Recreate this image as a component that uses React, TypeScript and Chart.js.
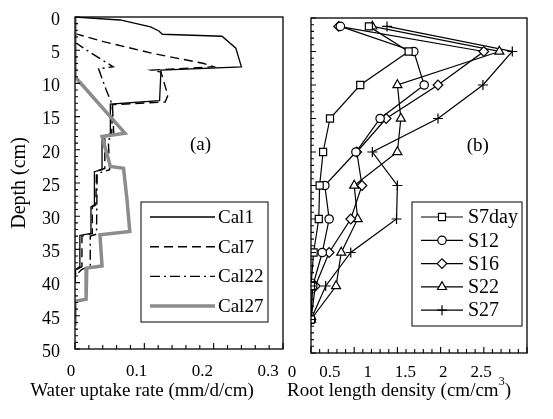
import React, { useEffect, useRef } from 'react';
import { Chart, registerables } from 'chart.js';
import { drawPoint } from 'chart.js/helpers';

Chart.register(...registerables);

const FONT = '"Liberation Serif", "Times New Roman", serif';

// ---------- Panel (a): water uptake rate profiles ----------
const cal1Rate = [0, 0.065, 0.109, 0.121, 0.126, 0.212, 0.232, 0.24, 0.124, 0.122, 0.051, 0.051, 0.039, 0.039, 0.028, 0.028, 0.023, 0.023, 0.007, 0.007, 0.001, 0];
const cal1Depth = [0, 0.45, 1.5, 2.1, 2.6, 2.9, 4.7, 7.5, 8.0, 12.6, 13.1, 17.6, 18.0, 23.0, 23.3, 28.3, 28.6, 32.6, 32.9, 37.6, 38.0, 40];
const cal7Rate = [0, 0.041, 0.113, 0.186, 0.2, 0.111, 0.124, 0.134, 0.13, 0.054, 0.053, 0.043, 0.043, 0.031, 0.03, 0.025, 0.025, 0.01, 0.01, 0.003, 0];
const cal7Depth = [2.5, 3.7, 5.5, 7.0, 7.5, 8.0, 8.3, 11.8, 12.8, 13.2, 17.6, 18.1, 22.8, 23.2, 28.3, 28.6, 32.6, 33.0, 37.6, 38.0, 39];
const cal22Rate = [0, 0.02, 0.055, 0.034, 0.045, 0.051, 0.054, 0.056, 0.048, 0.05, 0.032, 0.031, 0.022, 0.022, 0.01, 0];
const cal22Depth = [3.8, 5.2, 7.5, 7.8, 11.0, 12.5, 13.3, 17.8, 18.5, 23.0, 23.6, 32.7, 33.0, 37.5, 38.0, 39];
const cal27Rate = [0, 0, 0.072, 0.039, 0.051, 0.07, 0.075, 0.079, 0.036, 0.039, 0.017, 0.016, 0, 0];
const cal27Depth = [0, 9.0, 17.5, 18.0, 22.5, 22.8, 27.5, 32.3, 32.8, 37.5, 37.8, 42.5, 42.8, 46.5];
const uptakeTicks = [0, 0.1, 0.2, 0.3];

// ---------- Panel (b): root length density ----------
const rootDepths = [1.25, 5, 10, 15, 20, 25, 30, 35, 40, 45];
const s7day = [0.67, 1.13, 0.57, 0.22, 0.14, 0.1, 0.09, 0.03, 0.0, 0.0];
const s12 = [0.34, 1.19, 1.31, 0.8, 0.52, 0.16, 0.21, 0.13, 0.02, 0.0];
const s16 = [0.32, 2.0, 1.47, 0.87, 0.53, 0.59, 0.46, 0.21, 0.05, 0.0];
const s22 = [0.71, 2.18, 1.0, 1.04, 1.0, 0.5, 0.54, 0.35, 0.29, 0.0];
const s27 = [0.88, 2.33, 1.99, 1.47, 0.71, 1.0, 0.99, 0.46, 0.17, 0.0];
const rootTicks = [0, 0.5, 1, 1.5, 2, 2.5];
const depthTicksStep = 5;

const zip = (xs: number[], ys: number[]) => xs.map((x, i) => ({ x, y: ys[i] }));

const framePlugin = {
  id: 'frame',
  afterDatasetsDraw(chart: any, _a: any, o: any) {
    const { ctx, chartArea } = chart;
    const { left, top, right, bottom } = chartArea;
    const xs = chart.scales.x;
    const ys = chart.scales.y;
    ctx.save();
    ctx.strokeStyle = '#000';
    ctx.lineWidth = 1.1;
    ctx.setLineDash([]);
    ctx.beginPath();
    const nx = Math.round((xs.max - xs.min) / o.xMinor);
    for (let i = 0; i <= nx; i++) {
      const p = xs.getPixelForValue(xs.min + i * o.xMinor);
      const major = i % o.every === 0;
      ctx.moveTo(p, bottom);
      ctx.lineTo(p, bottom - (major ? 6 : 4));
    }
    const ny = Math.round((ys.max - ys.min) / o.yMinor);
    for (let i = 0; i <= ny; i++) {
      const p = ys.getPixelForValue(ys.min + i * o.yMinor);
      const major = i % o.every === 0;
      ctx.moveTo(left, p);
      ctx.lineTo(left + (major ? 5 : 3), p);
    }
    ctx.stroke();
    ctx.lineWidth = 1.3;
    ctx.strokeRect(left, top, right - left, bottom - top);
    ctx.restore();
  },
};

const boxLegend = {
  id: 'boxLegend',
  afterDraw(chart: any, _a: any, o: any) {
    const { ctx, chartArea } = chart;
    const bx = chartArea.left + o.left;
    const by = chartArea.top + o.top;
    ctx.save();
    ctx.fillStyle = '#fff';
    ctx.fillRect(bx, by, o.width, o.height);
    ctx.strokeStyle = '#000';
    ctx.lineWidth = 1;
    ctx.setLineDash([]);
    ctx.strokeRect(bx, by, o.width, o.height);
    chart.data.datasets.forEach((ds: any, i: number) => {
      const y = by + o.rowTop + i * o.rowGap;
      ctx.save();
      ctx.strokeStyle = ds.borderColor;
      ctx.lineWidth = ds.borderWidth;
      ctx.setLineDash(ds.borderDash || []);
      ctx.beginPath();
      ctx.moveTo(bx + o.lineX0, y);
      ctx.lineTo(bx + o.lineX1, y);
      ctx.stroke();
      ctx.restore();
      if (ds.pointStyle && ds.pointRadius > 0) {
        ctx.save();
        ctx.fillStyle = '#fff';
        ctx.strokeStyle = '#000';
        ctx.lineWidth = ds.pointBorderWidth;
        ctx.setLineDash([]);
        drawPoint(ctx, { pointStyle: ds.pointStyle, radius: ds.pointRadius, rotation: 0, borderWidth: ds.pointBorderWidth } as any, bx + (o.lineX0 + o.lineX1) / 2, y);
        ctx.restore();
      }
      ctx.fillStyle = '#000';
      ctx.font = `${o.fontSize}px ${FONT}`;
      ctx.textAlign = 'left';
      ctx.textBaseline = 'middle';
      ctx.fillText(ds.label, bx + o.textX, y + 1);
    });
    ctx.restore();
  },
};

const panelTag = {
  id: 'panelTag',
  afterDraw(chart: any, _a: any, o: any) {
    const { ctx } = chart;
    ctx.save();
    ctx.fillStyle = '#000';
    ctx.font = `${o.fontSize}px ${FONT}`;
    ctx.textAlign = 'center';
    ctx.textBaseline = 'middle';
    ctx.fillText(o.text, chart.scales.x.getPixelForValue(o.x), chart.scales.y.getPixelForValue(o.y));
    ctx.restore();
  },
};

function labelAxis(min: number, max: number, ticks: number[], height: number, pad: number) {
  return {
    type: 'linear',
    axis: 'x',
    position: 'bottom',
    min,
    max,
    afterBuildTicks: (s: any) => {
      s.ticks = ticks.map((v) => ({ value: v }));
    },
    afterFit: (s: any) => {
      s.height = height;
      s.paddingLeft = 0;
      s.paddingRight = 0;
    },
    ticks: {
      autoSkip: false,
      maxRotation: 0,
      minRotation: 0,
      padding: pad,
      color: '#000',
      font: { family: FONT, size: 17 },
      callback: (v: any) => String(v),
    },
    grid: { display: false, drawTicks: false },
    border: { display: false },
  };
}

function buildA(): any {
  const line = { showLine: true, pointRadius: 0, tension: 0, fill: false, xAxisID: 'x', yAxisID: 'y' };
  return {
    type: 'scatter',
    data: {
      datasets: [
        { ...line, label: 'Cal1', data: zip(cal1Rate, cal1Depth), borderColor: '#000', borderWidth: 1.3, borderDash: [] },
        { ...line, label: 'Cal7', data: zip(cal7Rate, cal7Depth), borderColor: '#000', borderWidth: 1.4, borderDash: [9, 5] },
        { ...line, label: 'Cal22', data: zip(cal22Rate, cal22Depth), borderColor: '#000', borderWidth: 1.4, borderDash: [10, 4, 2, 4] },
        { ...line, label: 'Cal27', data: zip(cal27Rate, cal27Depth), borderColor: '#8c8c8c', borderWidth: 3.5, borderDash: [], order: -1 },
      ],
    },
    options: {
      responsive: false,
      animation: false,
      devicePixelRatio: 1,
      events: [],
      layout: { padding: { left: 0, right: 7, top: 17, bottom: 0 } },
      scales: {
        x: { type: 'linear', min: 0, max: 0.3, display: false },
        xl: labelAxis(0.0061, 0.3228, uptakeTicks, 70, 12),
        y: {
          type: 'linear',
          min: 0,
          max: 50,
          reverse: true,
          position: 'left',
          afterFit: (s: any) => {
            s.width = 75;
            s.paddingTop = 0;
            s.paddingBottom = 0;
          },
          ticks: { stepSize: depthTicksStep, color: '#000', font: { family: FONT, size: 18 }, padding: 15, labelOffset: 3 },
          grid: { display: false, drawTicks: false },
          border: { display: false },
          title: { display: true, text: 'Depth (cm)', color: '#000', font: { family: FONT, size: 20 }, padding: { top: 8, bottom: 0 } },
        },
      },
      plugins: {
        legend: { display: false },
        tooltip: { enabled: false },
        frame: { xMinor: 0.02, yMinor: 1, every: 5 },
        boxLegend: { left: 66, top: 185, width: 127, height: 120, rowTop: 15, rowGap: 29.7, lineX0: 9, lineX1: 74, textX: 77, fontSize: 19 },
        panelTag: { text: '(a)', x: 0.181, y: 19.3, fontSize: 19 },
      },
    },
    plugins: [framePlugin, boxLegend, panelTag],
  };
}

function buildB(): any {
  const base = {
    showLine: true,
    tension: 0,
    fill: false,
    borderColor: '#000',
    borderWidth: 1.2,
    pointBorderColor: '#000',
    pointBackgroundColor: '#fff',
    pointBorderWidth: 1.2,
    xAxisID: 'x',
    yAxisID: 'y',
  };
  return {
    type: 'scatter',
    data: {
      datasets: [
        { ...base, label: 'S7day', data: zip(s7day, rootDepths), pointStyle: 'rect', pointRadius: 5 },
        { ...base, label: 'S12', data: zip(s12, rootDepths), pointStyle: 'circle', pointRadius: 4.2 },
        { ...base, label: 'S16', data: zip(s16, rootDepths), pointStyle: 'rectRot', pointRadius: 4.8 },
        { ...base, label: 'S22', data: zip(s22, rootDepths), pointStyle: 'triangle', pointRadius: 5.2 },
        { ...base, label: 'S27', data: zip(s27, rootDepths), pointStyle: 'cross', pointRadius: 5 },
      ],
    },
    options: {
      responsive: false,
      animation: false,
      devicePixelRatio: 1,
      events: [],
      layout: { padding: { left: 31, right: 26, top: 18, bottom: 0 } },
      scales: {
        x: { type: 'linear', min: 0, max: 2.5, display: false },
        xl: labelAxis(0.251, 3.108, rootTicks, 66, 9),
        y: { type: 'linear', min: 0, max: 50, reverse: true, display: false },
      },
      plugins: {
        legend: { display: false },
        tooltip: { enabled: false },
        frame: { xMinor: 0.1, yMinor: 1, every: 5 },
        boxLegend: { left: 101, top: 184, width: 110, height: 124, rowTop: 15, rowGap: 23.3, lineX0: 9, lineX1: 51, textX: 56, fontSize: 20 },
        panelTag: { text: '(b)', x: 1.93, y: 19.1, fontSize: 19 },
      },
    },
    plugins: [framePlugin, boxLegend, panelTag],
  };
}

export default function App() {
  const refA = useRef<HTMLCanvasElement>(null);
  const refB = useRef<HTMLCanvasElement>(null);
  useEffect(() => {
    const a = new Chart(refA.current as HTMLCanvasElement, buildA());
    const b = new Chart(refB.current as HTMLCanvasElement, buildB());
    return () => {
      a.destroy();
      b.destroy();
    };
  }, []);
  const titleStyle: React.CSSProperties = {
    position: 'absolute',
    top: 379,
    textAlign: 'center',
    fontSize: 19,
    lineHeight: '22px',
    fontFamily: FONT,
    color: '#000',
    whiteSpace: 'nowrap',
  };
  return (
    <div style={{ position: 'fixed', left: 0, top: 0, width: 553, height: 419, background: '#fff', overflow: 'hidden' }}>
      <canvas ref={refA} width={290} height={419} style={{ position: 'absolute', left: 0, top: 0 }} />
      <canvas ref={refB} width={273} height={419} style={{ position: 'absolute', left: 280, top: 0 }} />
      <div style={{ ...titleStyle, left: 0, width: 284 }}>Water uptake rate (mm/d/cm)</div>
      <div style={{ ...titleStyle, left: 249, width: 300 }}>
        {'Root length density (cm/cm'}
        <span style={{ fontSize: 12, position: 'relative', top: -11 }}>3</span>
        {')'}
      </div>
    </div>
  );
}
